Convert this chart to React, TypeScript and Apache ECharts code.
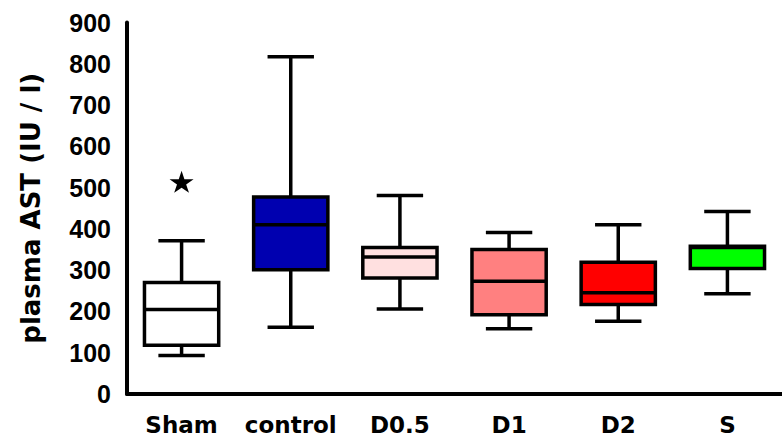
import React, { useEffect, useRef } from "react";
import * as echarts from "echarts";

const categories = ["Sham", "control", "D0.5", "D1", "D2", "S"];
const minVals = [93, 162, 206, 158, 176, 243];
const q1Vals = [118, 301, 281, 192, 217, 304];
const medianVals = [205, 410, 332, 273, 245, 355];
const q3Vals = [270, 477, 355, 350, 319, 358];
const maxVals = [371, 817, 481, 391, 410, 442];
const outlierPoints = [[0, 514]];
const yTicks = { min: 0, max: 900, interval: 100 };

const boxColors = ["#ffffff", "#0000b0", "#ffe0e0", "#ff8080", "#ff0000", "#00ff00"];

const STAR =
  "path://M50,0 L61.8,35.4 L100,35.4 L69.1,57.3 L80.9,92.7 L50,70.8 L19.1,92.7 L30.9,57.3 L0,35.4 L38.2,35.4 Z";

export default function App() {
  const ref = useRef<HTMLDivElement>(null);
  useEffect(() => {
    if (!ref.current) return;
    const chart = echarts.init(ref.current, null, { renderer: "svg" });
    const boxData = categories.map((_, i) => [i, minVals[i], q1Vals[i], medianVals[i], q3Vals[i], maxVals[i]]);
    const lw = 3.5;
    chart.setOption({
      animation: false,
      backgroundColor: "#ffffff",
      grid: { left: 127, right: -7, top: 22.5, bottom: 41.5 },
      xAxis: {
        type: "category",
        data: categories,
        boundaryGap: true,
        axisLine: { show: true, lineStyle: { color: "#000", width: 4 } },
        axisTick: { show: false },
        axisLabel: {
          color: "#000",
          fontSize: 23,
          fontWeight: "bold",
          fontFamily: "DejaVu Sans",
          margin: 19,
          interval: 0,
        },
        splitLine: { show: false },
      },
      yAxis: {
        type: "value",
        min: yTicks.min,
        max: yTicks.max,
        interval: yTicks.interval,
        name: "plasma AST (IU / l)",
        nameLocation: "middle",
        nameRotate: 90,
        nameGap: 83,
        nameTextStyle: {
          color: "#000",
          fontSize: 26,
          fontWeight: "bold",
          fontFamily: "DejaVu Sans",
        },
        axisLine: { show: true, lineStyle: { color: "#000", width: 4 } },
        axisTick: { show: false },
        axisLabel: {
          color: "#000",
          fontSize: 25,
          fontWeight: "bold",
          fontFamily: "Liberation Sans",
          margin: 16,
        },
        splitLine: { show: false },
      },
      series: [
        {
          type: "custom",
          data: boxData,
          encode: { x: 0, y: [1, 2, 3, 4, 5] },
          renderItem: (params: any, api: any) => {
            const idx = api.value(0);
            const pMin = api.coord([idx, api.value(1)]);
            const pQ1 = api.coord([idx, api.value(2)]);
            const pMed = api.coord([idx, api.value(3)]);
            const pQ3 = api.coord([idx, api.value(4)]);
            const pMax = api.coord([idx, api.value(5)]);
            const band = api.size([1, 0])[0];
            const bw = band * 0.68;
            const cw = band * 0.425;
            const x = pMed[0];
            const stroke = { stroke: "#000", lineWidth: lw };
            return {
              type: "group",
              children: [
                { type: "line", shape: { x1: x, y1: pQ3[1], x2: x, y2: pMax[1] }, style: stroke },
                { type: "line", shape: { x1: x, y1: pQ1[1], x2: x, y2: pMin[1] }, style: stroke },
                { type: "line", shape: { x1: x - cw / 2, y1: pMax[1], x2: x + cw / 2, y2: pMax[1] }, style: stroke },
                { type: "line", shape: { x1: x - cw / 2, y1: pMin[1], x2: x + cw / 2, y2: pMin[1] }, style: stroke },
                {
                  type: "rect",
                  shape: { x: x - bw / 2, y: pQ3[1], width: bw, height: pQ1[1] - pQ3[1] },
                  style: { fill: boxColors[params.dataIndex], stroke: "#000", lineWidth: lw },
                },
                { type: "line", shape: { x1: x - bw / 2, y1: pMed[1], x2: x + bw / 2, y2: pMed[1] }, style: stroke },
              ],
            };
          },
        },
        {
          type: "scatter",
          data: outlierPoints,
          symbol: STAR,
          symbolSize: [24, 22],
          itemStyle: { color: "#000", opacity: 1 },
        },
      ],
    });
    return () => chart.dispose();
  }, []);
  return (
    <div
      ref={ref}
      style={{ position: "absolute", left: 0, top: 0, width: 782, height: 436, background: "#fff" }}
    />
  );
}
